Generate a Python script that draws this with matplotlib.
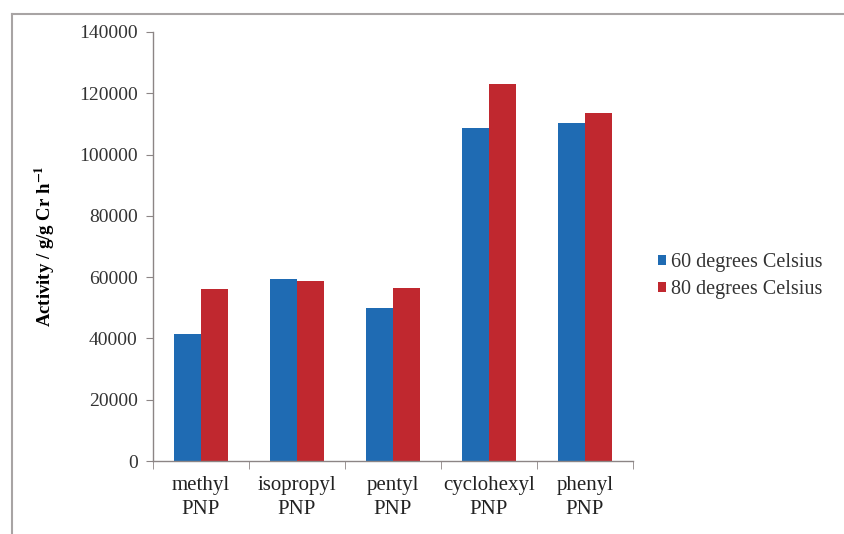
import numpy as np
import matplotlib.pyplot as plt
from matplotlib.lines import Line2D

# Ethylene oligomerisation activity for the PNP ligand series
ligands = ['methyl\nPNP', 'isopropyl\nPNP', 'pentyl\nPNP', 'cyclohexyl\nPNP', 'phenyl\nPNP']
activity_60 = [41500, 59500, 50000, 108800, 110200]
activity_80 = [56000, 58800, 56400, 123000, 113700]
series_names = ['60 degrees Celsius', '80 degrees Celsius']
yticks = [0, 20000, 40000, 60000, 80000, 100000, 120000, 140000]

blue = '#1f6bb3'
red = '#c0282f'
axis_grey = '#8c8585'

plt.rcParams['font.family'] = ['Liberation Serif', 'DejaVu Serif']
plt.rcParams['mathtext.fontset'] = 'stix'

fig = plt.figure(figsize=(8.45, 5.34), dpi=100)
ax = fig.add_axes([153 / 845, 73 / 534, 480 / 845, 429 / 534])

x = np.arange(len(ligands))
w = 0.28
ax.bar(x - w / 2, activity_60, w, color=blue, label=series_names[0])
ax.bar(x + w / 2, activity_80, w, color=red, label=series_names[1])

ax.set_xlim(-0.5, len(ligands) - 0.5)
ax.set_ylim(0, 140000)
ax.set_yticks(yticks)
ax.set_yticklabels([str(v) for v in yticks], fontsize=14, color='#333333')

# category labels centred, tick marks on the category boundaries
ax.set_xticks(x)
ax.set_xticklabels(ligands, fontsize=15, color='#222222', linespacing=1.35)
ax.tick_params(axis='x', length=0, pad=11)
ax.set_xticks(np.arange(-0.5, len(ligands)), minor=True)
ax.tick_params(axis='x', which='minor', length=6, color=axis_grey, direction='out')
ax.tick_params(axis='y', length=5, color=axis_grey, direction='out', pad=6)

for side in ['top', 'right']:
    ax.spines[side].set_visible(False)
for side in ['left', 'bottom']:
    ax.spines[side].set_color(axis_grey)
    ax.spines[side].set_linewidth(1.0)

ax.set_ylabel('Activity / g/g Cr h$^{\\mathbf{-1}}$', fontsize=13.5,
              fontweight='bold', labelpad=16)

leg = fig.legend(loc='center left', bbox_to_anchor=(658 / 845, 258 / 534),
                 frameon=False, fontsize=14.5, handlelength=0.4,
                 handleheight=0.4, handletextpad=0.25, labelspacing=0.4,
                 borderaxespad=0, borderpad=0)
for t in leg.get_texts():
    t.set_color('#333333')

# thin frame line along the top and left of the figure
frame_kw = dict(color='#a8a4a4', linewidth=1.5, transform=fig.transFigure)
fig.add_artist(Line2D([12 / 845, 1.0], [1 - 14 / 534, 1 - 14 / 534], **frame_kw))
fig.add_artist(Line2D([12 / 845, 12 / 845], [0.0, 1 - 14 / 534], **frame_kw))

fig.savefig('out.png', dpi=100)
